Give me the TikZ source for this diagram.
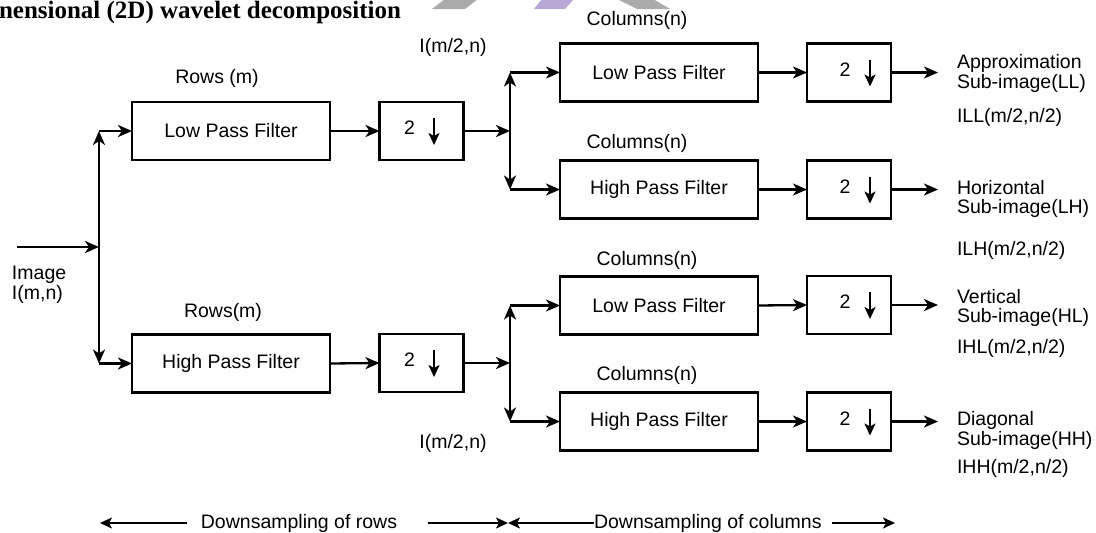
\documentclass[tikz,border=0pt]{standalone}
\usepackage{fontspec}
\setmainfont{Liberation Sans}
\newfontfamily\titlefont{Liberation Serif}
\usetikzlibrary{arrows.meta}
\definecolor{wmgray}{RGB}{170,170,170}
\definecolor{wmpurple}{RGB}{186,168,214}
\begin{document}
\begin{tikzpicture}[x=1pt,y=-1pt,
  every node/.style={font=\fontsize{19.5}{22}\selectfont, inner sep=0pt, outer sep=0pt},
  blk/.style={draw, line width=2.8pt, minimum height=58pt},
  filt/.style={blk, minimum width=198pt},
  dsbox/.style={blk, minimum width=84pt},
  conn/.style={line width=2.3pt, -{Stealth[length=14pt,width=12pt,inset=4pt]}},
  dsarrow/.style={line width=2.5pt, -{Stealth[length=12pt,width=11pt,inset=3pt]}},
  thin/.style={line width=1.7pt, -{Stealth[length=12pt,width=11pt,inset=3pt]}},
  rlabel/.style={anchor=west, align=left}
]
\useasboundingbox (0,0) rectangle (1096,533);
\fill[white] (0,0) rectangle (1096,533);

% watermark fragments
\begin{scope}
\clip (0,0) rectangle (1096,533);
\fill[wmgray] (445,-1) -- (478,-1) -- (465,9) -- (432,9) -- cycle;
\fill[wmpurple] (542,-1) -- (574,-1) -- (565,9) -- (534,9) -- cycle;
\fill[wmgray] (617,-1) -- (653,-1) -- (670,9) -- (637,9) -- cycle;
\end{scope}
\node[anchor=base west, font=\titlefont\bfseries\fontsize{25}{27}\selectfont] (title) at (-1,18) {nensional (2D) wavelet decomposition};

% row filters
\node[filt] (rlpf) at (231,131) {Low Pass Filter};
\node[filt] (rhpf) at (231,363.5) {High Pass Filter};
\node[dsbox] (ds1) at (421.5,131) {};
\node[dsbox] (ds2) at (421.5,363) {};

% column filters
\node[filt] (clpf1) at (659,72.5) {Low Pass Filter};
\node[filt] (chpf1) at (659,189.5) {High Pass Filter};
\node[filt] (clpf2) at (659,305.5) {Low Pass Filter};
\node[filt] (chpf2) at (659,421.5) {High Pass Filter};
\node[dsbox] (dsA) at (849,72.5) {};
\node[dsbox] (dsB) at (849,189.5) {};
\node[dsbox] (dsC) at (849,305) {};
\node[dsbox] (dsD) at (849,421.5) {};

% contents of downsampling boxes
\foreach \b in {ds1,ds2}{
  \node (\b two) at ([xshift=-12pt,yshift=3pt]\b.center) {2};
  \coordinate (\b a) at ([xshift=12.5pt,yshift=13pt]\b.center);
  \coordinate (\b b) at ([xshift=12.5pt,yshift=-14pt]\b.center);
  \draw[dsarrow] (\b a) -- (\b b);
}
\foreach \b in {dsA,dsB,dsC,dsD}{
  \node (\b two) at ([xshift=-4pt,yshift=3pt]\b.center) {2};
  \coordinate (\b a) at ([xshift=21pt,yshift=13pt]\b.center);
  \coordinate (\b b) at ([xshift=21pt,yshift=-14pt]\b.center);
  \draw[dsarrow] (\b a) -- (\b b);
}

% branch coordinates
\coordinate (in) at (17,247);
\coordinate (s0) at (99,247);
\coordinate (s0t) at (99,131);
\coordinate (s0b) at (99,363.5);
\coordinate (s1) at (510,131);
\coordinate (s1t) at (510,72.5);
\coordinate (s1b) at (510,189.5);
\coordinate (s2) at (510,363);
\coordinate (s2t) at (510,305.5);
\coordinate (s2b) at (510,421.5);
\coordinate (oA) at (938,72.5);
\coordinate (oB) at (938,189.5);
\coordinate (oC) at (938,305);
\coordinate (oD) at (938,421.5);

% connectors
\draw[conn] (in) -- (s0);
\draw[conn] (s0) -- (s0t);
\draw[conn] (s0) -- (s0b);
\draw[conn] (s0t) -- (rlpf.west);
\draw[conn] (s0b) -- (rhpf.west);
\draw[conn] (rlpf.east) -- (ds1.west);
\draw[conn] (rhpf.east) -- (ds2.west);
\draw[conn] (ds1.east) -- (s1);
\draw[conn] (ds2.east) -- (s2);
\draw[conn] (s1) -- (s1t);
\draw[conn] (s1) -- (s1b);
\draw[conn] (s2) -- (s2t);
\draw[conn] (s2) -- (s2b);
\draw[conn] (s1t) -- (clpf1.west);
\draw[conn] (s1b) -- (chpf1.west);
\draw[conn] (s2t) -- (clpf2.west);
\draw[conn] (s2b) -- (chpf2.west);
\draw[conn] (clpf1.east) -- (dsA.west);
\draw[conn] (chpf1.east) -- (dsB.west);
\draw[conn] (clpf2.east) -- (dsC.west);
\draw[conn] (chpf2.east) -- (dsD.west);
\draw[conn] (dsA.east) -- (oA);
\draw[conn] (dsB.east) -- (oB);
\draw[conn] (dsC.east) -- (oC);
\draw[conn] (dsD.east) -- (oD);

% labels
\node (rowsm1) at (217,78) {Rows (m)};
\node (rowsm2) at (223,312) {Rows(m)};
\node[anchor=west] (img1) at (12,275) {Image};
\node[anchor=west] (img2) at (12,294) {I(m,n)};
\node (ih1) at (453,47) {I(m/2,n)};
\node (ih2) at (453,443) {I(m/2,n)};
\node (col1) at (637,20) {Columns(n)};
\node (col2) at (637,143) {Columns(n)};
\node (col3) at (647,260) {Columns(n)};
\node (col4) at (647,375) {Columns(n)};

\node[rlabel] (appr) at (957,63) {Approximation};
\node[rlabel] (subLL) at (957,83) {Sub-image(LL)};
\node[rlabel] (ILL) at (957,117) {ILL(m/2,n/2)};
\node[rlabel] (horz) at (957,188) {Horizontal};
\node[rlabel] (subLH) at (957,208) {Sub-image(LH)};
\node[rlabel] (ILH) at (957,250) {ILH(m/2,n/2)};
\node[rlabel] (vert) at (957,297) {Vertical};
\node[rlabel] (subHL) at (957,317) {Sub-image(HL)};
\node[rlabel] (IHL) at (957,348) {IHL(m/2,n/2)};
\node[rlabel] (diag) at (957,420) {Diagonal};
\node[rlabel] (subHH) at (957,440) {Sub-image(HH)};
\node[rlabel] (IHH) at (957,468) {IHH(m/2,n/2)};

% bottom legend
\node (dsrows) at (299,523) {Downsampling of rows};
\node[anchor=west] (dscols) at (594,523) {Downsampling of columns};
\coordinate (lrA) at (187,523);
\coordinate (lrB) at (100,523);
\coordinate (mid) at (508,523);
\coordinate (rrA) at (428,523);
\coordinate (rcA) at (832,523);
\coordinate (rcB) at (895,523);
\draw[thin] (lrA) -- (lrB);
\draw[thin] (rrA) -- (mid);
\draw[thin] (dscols.west) -- (mid);
\draw[thin] (rcA) -- (rcB);
\end{tikzpicture}
\end{document}
